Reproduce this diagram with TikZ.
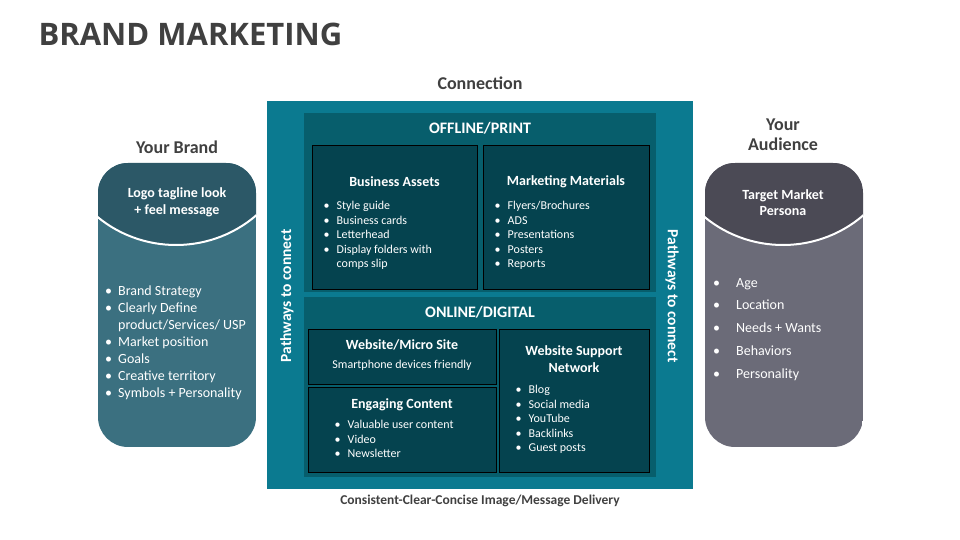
\documentclass[tikz,border=0pt]{standalone}
\usepackage{fontspec}
\setmainfont{Carlito}
\newfontfamily\titlefont{Open Sans}
\usetikzlibrary{positioning}
\definecolor{outerteal}{HTML}{0B7A90}
\definecolor{panelteal}{HTML}{075E6C}
\definecolor{boxteal}{HTML}{05434F}
\definecolor{brandtop}{HTML}{2C5867}
\definecolor{brandbot}{HTML}{3B7080}
\definecolor{audtop}{HTML}{4B4A55}
\definecolor{audbot}{HTML}{6B6B78}
\definecolor{textgray}{HTML}{404040}
\newcommand{\bul}{\makebox[13pt][l]{\textbullet}}
\newcommand{\bulw}{\makebox[23pt][l]{\textbullet}}
\tikzset{
  heading/.style={font=\bfseries\fontsize{18}{20}\selectfont, text=textgray, align=center},
  paneltitle/.style={font=\bfseries\fontsize{16}{18}\selectfont, text=white},
  boxtitle/.style={font=\bfseries\fontsize{14}{16.5}\selectfont, text=white, align=center},
  itemlist/.style={font=\fontsize{12}{14.5}\selectfont, text=white, align=left, anchor=north west, inner sep=0pt},
  cardlist/.style={itemlist, font=\fontsize{14}{17}\selectfont},
  subbox/.style={draw=black, fill=boxteal, line width=0.8pt, anchor=north west, inner sep=0pt},
  panel/.style={fill=panelteal, anchor=north west, inner sep=0pt},
  pathway/.style={font=\bfseries\fontsize{15.5}{18}\selectfont, text=white},
}
\begin{document}
\begin{tikzpicture}[x=1pt,y=-1pt]
\useasboundingbox[fill=white] (0,0) rectangle (960,540);
\node[font=\titlefont\bfseries\fontsize{31}{36}\selectfont, text=textgray, anchor=west] (title) at (35,34) {BRAND MARKETING};
% mittlerer Block
\node[fill=outerteal, anchor=north west, inner sep=0pt, minimum width=426pt, minimum height=388pt] (outer) at (267,101) {};
\node[heading] (connection) at (480,83) {Connection};
\node[font=\bfseries\fontsize{13.5}{15}\selectfont, text=textgray] (delivery) at (480,501) {Consistent-Clear-Concise Image/Message Delivery};
\node[pathway, rotate=90] (pathleft) at (287,296) {Pathways to connect};
\node[pathway, rotate=-90] (pathright) at (672,296) {Pathways to connect};
%Offline
\node[panel, minimum width=352pt, minimum height=179pt] (offline) at (304,113) {};
\node[paneltitle] (offlinetitle) at (480,128) {OFFLINE/PRINT};
\node[subbox, minimum width=165pt, minimum height=144pt] (assets) at (312,145) {};
\node[subbox, minimum width=166pt, minimum height=144pt] (materials) at (483,145) {};
\node[boxtitle] (assetstitle) at (394.5,181.5) {Business Assets};
\node[itemlist] (assetslist) at (323.5,201) {\bul Style guide\\ \bul Business cards\\ \bul Letterhead\\ \bul Display folders with\\ \hspace*{13pt}comps slip};
\node[boxtitle] (materialstitle) at (566,181.5) {Marketing Materials};
\node[itemlist] (materialslist) at (494.5,201) {\bul Flyers/Brochures\\ \bul ADS\\ \bul Presentations\\ \bul Posters\\ \bul Reports};
%Online
\node[panel, minimum width=352pt, minimum height=180pt] (online) at (304,297) {};
\node[paneltitle] (onlinetitle) at (480,312) {ONLINE/DIGITAL};
\node[subbox, minimum width=188pt, minimum height=55pt] (website) at (308,329) {};
\node[subbox, minimum width=188pt, minimum height=85pt] (engaging) at (308,387) {};
\node[subbox, minimum width=150pt, minimum height=143pt] (support) at (499,329) {};
\node[boxtitle] (websitetitle) at (402,345) {Website/Micro Site};
\node[font=\fontsize{12}{14}\selectfont, text=white] (websitetext) at (402,365) {Smartphone devices friendly};
\node[boxtitle] (engagingtitle) at (402,405) {Engaging Content};
\node[itemlist] (engaginglist) at (334.5,420) {\bul Valuable user content\\ \bul Video\\ \bul Newsletter};
\node[boxtitle] (supporttitle) at (574,359) {Website Support\\ Network};
\node[itemlist] (supportlist) at (515.5,385) {\bul Blog\\ \bul Social media\\ \bul YouTube\\ \bul Backlinks\\ \bul Guest posts};
% Karten links und rechts
\foreach \cx/\top/\bot in {98/brandtop/brandbot, 705/audtop/audbot}{
  \begin{scope}
    \clip[rounded corners=30pt] (\cx,163) rectangle ++(158,284);
    \fill[\bot] (\cx,163) rectangle ++(158,284);
    \fill[\top] (\cx-5,150) -- (\cx+163,150) -- (\cx+163,211) .. controls (\cx+116,256) and (\cx+42,256) .. (\cx-5,213) -- cycle;
    \draw[white, line width=2pt] (\cx-5,213) .. controls (\cx+42,256) and (\cx+116,256) .. (\cx+163,211);
  \end{scope}
}
\node[heading] (brandhead) at (177,147) {Your Brand};
\node[boxtitle] (brandtag) at (177,202.5) {Logo tagline look\\ + feel message};
\node[cardlist] (brandlist) at (105,286) {\bul Brand Strategy\\ \bul Clearly Define\\ \hspace*{13pt}product/Services/ USP\\ \bul Market position\\ \bul Goals\\ \bul Creative territory\\ \bul Symbols + Personality};
\node[heading] (audiencehead) at (783,135) {Your\\ Audience};
\node[boxtitle] (persona) at (783,202.5) {Target Market\\ Persona};
\node[cardlist, font=\fontsize{14}{22.8}\selectfont] (audiencelist) at (713,278) {\bulw Age\\ \bulw Location\\ \bulw Needs + Wants\\ \bulw Behaviors\\ \bulw Personality};
\end{tikzpicture}
\end{document}
